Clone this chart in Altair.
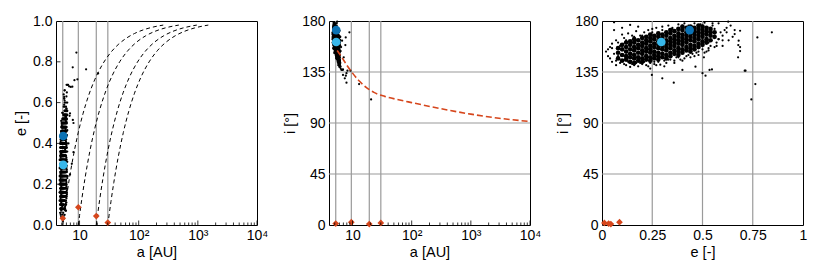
import altair as alt
import pandas as pd

FONT = "Liberation Sans"
FS = 14
FS_T = 14.5
GRID = "#9a9a9a"
RED = "#d6461c"

# ---- planets (red diamonds) ----
planet_names = ["Jupiter", "Saturn", "Uranus", "Neptune"]
planet_a = [5.2, 9.54, 19.19, 30.07]
planet_e = [0.033, 0.087, 0.044, 0.012]
planet_i = [1.3, 2.5, 0.8, 1.8]

# ---- highlighted objects (blue circles) ----
obj_a = [5.3, 5.3]
obj_e = [0.436, 0.295]
obj_i = [172.0, 161.5]
obj_color = ["#0b72b4", "#38b7ea"]

# ---- particle cloud: dense core (rows of equal e) ----
core_e = [0.08, 0.10, 0.12, 0.14, 0.16, 0.18, 0.20, 0.22, 0.24, 0.26, 0.28, 0.30, 0.32,
          0.34, 0.36, 0.38, 0.40, 0.42, 0.44, 0.46, 0.48, 0.50, 0.52, 0.54, 0.56]
core_i = [
    [147, 152, 156],
    [145, 150, 155, 159],
    [146, 149, 153, 157, 161],
    [144, 148, 151, 155, 159, 162],
    [143, 147, 150, 154, 157, 161, 164],
    [145, 148, 152, 156, 159, 163],
    [144, 147, 151, 154, 158, 161, 165],
    [146, 149, 153, 156, 160, 163, 166],
    [145, 148, 152, 155, 158, 162, 165, 168],
    [147, 150, 153, 157, 160, 164, 167],
    [146, 149, 152, 156, 159, 162, 166, 169],
    [148, 151, 155, 158, 161, 165, 168],
    [147, 150, 154, 157, 160, 163, 167, 170],
    [149, 152, 156, 159, 162, 165, 169, 172],
    [151, 154, 158, 161, 164, 167, 171],
    [150, 153, 156, 160, 163, 166, 169, 173],
    [152, 155, 159, 162, 165, 168, 172, 175],
    [154, 157, 161, 164, 167, 170, 174],
    [153, 156, 159, 163, 166, 169, 172, 175],
    [155, 158, 162, 165, 168, 171, 174],
    [157, 160, 164, 167, 170, 173, 176],
    [159, 162, 166, 169, 172, 175],
    [161, 164, 168, 171, 174],
    [163, 167, 170, 173],
    [166, 170],
]
core_a = [
    [5.5, 5.0, 4.8],
    [5.8, 5.3, 5.0, 4.8],
    [5.6, 5.4, 5.1, 4.9, 4.7],
    [5.9, 5.5, 5.3, 5.1, 4.9, 4.8],
    [6.0, 5.7, 5.4, 5.2, 5.0, 4.9, 4.7],
    [5.8, 5.5, 5.3, 5.1, 4.9, 4.8],
    [5.9, 5.6, 5.4, 5.2, 5.0, 4.9, 4.7],
    [5.8, 5.5, 5.3, 5.1, 5.0, 4.8, 4.7],
    [6.0, 5.7, 5.5, 5.3, 5.1, 5.0, 4.9, 4.7],
    [5.8, 5.6, 5.4, 5.2, 5.0, 4.9, 4.8],
    [5.9, 5.7, 5.5, 5.3, 5.1, 5.0, 4.9, 4.7],
    [5.8, 5.6, 5.3, 5.2, 5.0, 4.9, 4.8],
    [5.9, 5.7, 5.5, 5.3, 5.2, 5.0, 4.9, 4.7],
    [5.8, 5.6, 5.4, 5.3, 5.1, 5.0, 4.9, 4.8],
    [5.8, 5.5, 5.4, 5.2, 5.1, 4.9, 4.8],
    [6.0, 5.7, 5.5, 5.4, 5.2, 5.1, 4.9, 4.8],
    [5.9, 5.7, 5.5, 5.3, 5.2, 5.0, 4.9, 4.8],
    [5.8, 5.6, 5.4, 5.3, 5.1, 5.0, 4.9],
    [6.0, 5.8, 5.6, 5.4, 5.3, 5.1, 5.0, 4.9],
    [5.9, 5.7, 5.5, 5.4, 5.2, 5.1, 5.0],
    [5.9, 5.7, 5.5, 5.4, 5.2, 5.1, 5.0],
    [6.0, 5.8, 5.6, 5.4, 5.3, 5.1],
    [6.0, 5.8, 5.6, 5.4, 5.2],
    [6.1, 5.8, 5.6, 5.4],
    [6.1, 5.7],
]

# ---- particle cloud: scattered halo ----
halo_e = [0.02, 0.03, 0.04, 0.05, 0.05, 0.06, 0.06, 0.07, 0.07, 0.09,
          0.09, 0.10, 0.11, 0.12, 0.13, 0.14, 0.15, 0.16, 0.17, 0.18,
          0.19, 0.20, 0.21, 0.22, 0.23, 0.24, 0.25, 0.26, 0.27, 0.28,
          0.29, 0.30, 0.31, 0.33, 0.34, 0.35, 0.37, 0.38, 0.39, 0.41,
          0.42, 0.43, 0.45, 0.46, 0.47, 0.49, 0.50, 0.51, 0.53, 0.54,
          0.55, 0.57, 0.58, 0.59, 0.60, 0.61, 0.62, 0.64, 0.06, 0.14,
          0.10, 0.18, 0.36, 0.44, 0.52, 0.24, 0.31, 0.40, 0.57, 0.48,
          0.04, 0.08, 0.12, 0.16, 0.20, 0.25, 0.30, 0.35, 0.40, 0.45,
          0.50, 0.55, 0.60, 0.03, 0.07, 0.11, 0.15, 0.19, 0.23, 0.27,
          0.32, 0.36, 0.41, 0.46, 0.51, 0.56, 0.62, 0.66, 0.08, 0.13,
          0.17, 0.21, 0.26, 0.33, 0.38, 0.43, 0.48, 0.53, 0.58, 0.05]
halo_i = [153, 149, 157, 144, 160, 151, 178.8, 141, 163, 158,
          143, 168, 165, 141, 169, 139.5, 167, 141, 171, 140,
          167, 142, 170, 141, 172, 143, 173, 142, 174, 144,
          141.5, 175, 145, 176, 146, 174, 148, 177, 146, 178,
          149, 176, 151, 178, 152, 177, 155, 178.5, 156, 158,
          176, 161, 164, 170, 167, 172, 174, 176, 172, 176.5,
          174, 175, 143, 148, 153, 138, 140, 145, 158, 150,
          147, 161, 163, 166, 167, 170, 172, 173, 176, 175,
          176, 178, 163, 155, 145, 142, 142, 143, 140, 141,
          143, 145, 147, 149, 152, 157, 170, 172, 149, 144,
          143, 144, 144, 146, 148, 150, 153, 154, 164, 156]
halo_a = [5.2, 5.4, 4.9, 5.6, 4.8, 5.3, 4.8, 5.8, 4.9, 5.1,
          5.7, 4.8, 4.9, 5.9, 4.8, 6.0, 4.9, 5.8, 4.8, 6.1,
          4.9, 5.8, 4.8, 5.9, 4.8, 5.9, 4.8, 6.0, 4.9, 5.8,
          6.1, 4.9, 5.9, 4.8, 5.8, 4.9, 5.7, 4.8, 6.0, 4.8,
          5.8, 4.9, 5.7, 4.9, 5.8, 5.0, 5.7, 4.9, 5.9, 5.8,
          5.1, 6.0, 5.9, 5.5, 5.9, 5.6, 5.5, 5.4, 4.7, 4.8,
          4.7, 4.8, 6.2, 6.1, 6.0, 6.3, 6.2, 6.1, 6.0, 6.0,
          5.3, 4.9, 4.8, 4.8, 4.9, 4.8, 4.9, 4.8, 4.8, 4.9,
          5.0, 5.2, 5.6, 5.2, 5.9, 6.0, 6.1, 6.0, 6.2, 6.1,
          6.0, 5.9, 5.9, 5.8, 5.8, 5.7, 5.5, 5.6, 5.7, 6.0,
          6.1, 6.0, 6.1, 6.0, 5.9, 5.9, 5.8, 5.8, 5.6, 5.1]

# ---- particle cloud: outliers ----
out_e = [0.845, 0.773, 0.763, 0.714, 0.743, 0.687, 0.68, 0.678, 0.677, 0.66,
         0.628, 0.547, 0.515, 0.50, 0.357, 0.30, 0.248, 0.40, 0.465, 0.535,
         0.507, 0.53, 0.71, 0.687, 0.687, 0.65, 0.58, 0.56, 0.63, 0.60]
out_i = [170, 165.5, 124.4, 136.2, 110.8, 171.4, 162.6, 158.8, 148, 168.5,
         179.4, 137.3, 131.7, 134, 125.6, 129.4, 132.4, 136.8, 139.7, 136.8,
         148, 161, 136.2, 153.5, 157, 166, 178, 173, 163, 158]
out_a = [8.85, 7.67, 12.9, 9.2, 20.6, 6.04, 6.66, 7.56, 7.1, 5.6,
         5.5, 6.9, 7.7, 7.9, 7.9, 7.4, 6.9, 6.5, 6.2, 6.8,
         6.0, 5.8, 8.2, 6.3, 6.4, 6.1, 5.4, 5.6, 6.0, 6.2]

# ---- constant-perihelion curves (panel 1, dashed black) ----
qJ_a = [5.2, 5.5, 6, 6.8, 8, 9.5, 11.5, 14, 18, 24, 33, 45, 62, 85, 120, 175, 260]
qJ_e = [0, 0.0545, 0.1333, 0.2353, 0.35, 0.4526, 0.5478, 0.6286, 0.7111, 0.7833,
        0.8424, 0.8844, 0.9161, 0.9388, 0.9567, 0.9703, 0.98]
qS_a = [9.54, 10, 11, 12.5, 15, 18, 22, 28, 36, 48, 65, 90, 130, 190, 280, 380, 477]
qS_e = [0, 0.046, 0.1327, 0.2368, 0.364, 0.47, 0.5664, 0.6593, 0.735, 0.8013,
        0.8532, 0.894, 0.9266, 0.9498, 0.9659, 0.9749, 0.98]
qU_a = [19.19, 20, 22, 25, 30, 36, 44, 55, 70, 95, 130, 180, 260, 380, 560, 760, 960]
qU_e = [0, 0.0405, 0.1277, 0.2324, 0.3603, 0.4669, 0.5639, 0.6511, 0.7259, 0.798,
        0.8524, 0.8934, 0.9262, 0.9495, 0.9657, 0.9747, 0.98]
qN_a = [30.07, 31.5, 34, 38, 45, 55, 68, 85, 110, 150, 210, 290, 410, 600, 880, 1200, 1503]
qN_e = [0, 0.0454, 0.1156, 0.2087, 0.3318, 0.4533, 0.5578, 0.6462, 0.7266, 0.7995,
        0.8568, 0.8963, 0.9267, 0.9499, 0.9658, 0.9749, 0.98]

# ---- red dashed curve (panel 2) ----
crit_a = [5.5, 6.5, 8, 10, 13, 17, 23, 35, 60, 100, 300, 1000, 3000, 10000]
crit_i = [154, 148.5, 141, 134, 127, 121.5, 117, 113.5, 110.5, 108, 102.8, 97.8, 94.2, 91.3]

# ---- ticks ----
log_major = [10, 100, 1000, 10000]
log_minor = [5, 6, 7, 8, 9, 20, 30, 40, 50, 60, 70, 80, 90,
             200, 300, 400, 500, 600, 700, 800, 900,
             2000, 3000, 4000, 5000, 6000, 7000, 8000, 9000]
e_ticks = [0, 0.2, 0.4, 0.6, 0.8, 1.0]
ang_ticks = [0, 45, 90, 135, 180]
ang_grid = [45, 90, 135]
ecc_ticks = [0, 0.25, 0.5, 0.75, 1]
ecc_grid = [0.25, 0.5, 0.75]

# ---------------- tables ----------------
rows = []
for e, irow, arow in zip(core_e, core_i, core_a):
    for i, a in zip(irow, arow):
        rows.append({"a": a, "e": e, "i": i, "s1": 10, "s3": 22})
for a, e, i in zip(halo_a, halo_e, halo_i):
    rows.append({"a": a, "e": e, "i": i, "s1": 5, "s3": 5})
for a, e, i in zip(out_a, out_e, out_i):
    rows.append({"a": a, "e": e, "i": i, "s1": 5, "s3": 5})
particles = pd.DataFrame(rows)

planets = pd.DataFrame({"name": planet_names, "a": planet_a, "e": planet_e, "i": planet_i})
objects = pd.DataFrame({"a": obj_a, "e": obj_e, "i": obj_i, "col": obj_color})

qrows = []
for q, aa, ee in [("J", qJ_a, qJ_e), ("S", qS_a, qS_e), ("U", qU_a, qU_e), ("N", qN_a, qN_e)]:
    for k, (a, e) in enumerate(zip(aa, ee)):
        qrows.append({"q": q, "k": k, "a": a, "e": e})
qcurves = pd.DataFrame(qrows)
crit = pd.DataFrame({"a": crit_a, "i": crit_i, "k": list(range(len(crit_a)))})

W, H = 201, 204


def AX(**kw):
    return alt.Axis(labelFont=FONT, titleFont=FONT, labelFontSize=FS, titleFontSize=FS_T,
                    titleFontWeight="normal", labelColor="black", titleColor="black",
                    ticks=False, domain=False, grid=False, labelFlush=False,
                    labelOverlap=False, **kw)


xlog = alt.Scale(type="log", domain=[4, 10000], nice=False)
ax_log = AX(values=log_major, title="a [AU]", labelPadding=3, titlePadding=3,
            labelExpr="datum.value == 10 ? '10' : datum.value == 100 ? '10²' : datum.value == 1000 ? '10³' : '10⁴'")
ye = alt.Scale(domain=[0, 1], nice=False, zero=False)
ax_e = AX(values=e_ticks, format=".1f", title="e [-]", labelPadding=4, titlePadding=4)
yi = alt.Scale(domain=[0, 180], nice=False)
ax_i = AX(values=ang_ticks, title="i [°]", labelPadding=4, titlePadding=4)
xe = alt.Scale(domain=[0, 1], nice=False)
ax_xe = AX(values=ecc_ticks, format=".2~f", title="e [-]", labelPadding=3, titlePadding=3)


def XA():
    return alt.X("a:Q", scale=xlog, axis=ax_log)


def log_ticks():
    minor = alt.Chart(pd.DataFrame({"a": log_minor})).mark_rule(color="black", strokeWidth=0.8).encode(
        x=XA(), y=alt.value(H), y2=alt.value(H - 2.5))
    major = alt.Chart(pd.DataFrame({"a": log_major})).mark_rule(color="black", strokeWidth=0.8).encode(
        x=XA(), y=alt.value(H), y2=alt.value(H - 4.5))
    return [minor, major]


# ---------------- panel 1: a vs e ----------------
YE = alt.Y("e:Q", scale=ye, axis=ax_e)
p1 = alt.layer(
    alt.Chart(planets).mark_rule(color=GRID, strokeWidth=1.2).encode(x=XA()),
    alt.Chart(qcurves).mark_line(color="black", strokeDash=[4, 3], strokeWidth=1,
                                 interpolate="monotone").encode(x=XA(), y=YE, detail="q:N", order="k:Q"),
    alt.Chart(particles).mark_circle(color="black", opacity=1).encode(
        x=XA(), y=YE, size=alt.Size("s1:Q", scale=None, legend=None)),
    alt.Chart(objects).mark_circle(size=75, opacity=1).encode(x=XA(), y=YE, color=alt.Color("col:N", scale=None)),
    alt.Chart(planets).mark_point(shape="diamond", filled=True, size=45, color=RED, opacity=1).encode(x=XA(), y=YE),
    *log_ticks(),
    alt.Chart(pd.DataFrame({"e": [0.2, 0.4, 0.6, 0.8]})).mark_rule(color="black", strokeWidth=0.8).encode(
        y=YE, x=alt.value(0), x2=alt.value(4.5)),
).properties(width=W, height=H)

# ---------------- panel 2: a vs i ----------------
YI = alt.Y("i:Q", scale=yi, axis=ax_i)
p2 = alt.layer(
    alt.Chart(planets).mark_rule(color=GRID, strokeWidth=1.2).encode(x=XA()),
    alt.Chart(pd.DataFrame({"i": ang_grid})).mark_rule(color=GRID, strokeWidth=1.2).encode(y=YI),
    alt.Chart(particles).mark_circle(color="black", opacity=1).encode(
        x=XA(), y=YI, size=alt.Size("s1:Q", scale=None, legend=None)),
    alt.Chart(crit).mark_line(color=RED, strokeDash=[6, 3], strokeWidth=1.6,
                              interpolate="monotone").encode(x=XA(), y=YI, order="k:Q"),
    alt.Chart(objects).mark_circle(size=75, opacity=1).encode(x=XA(), y=YI, color=alt.Color("col:N", scale=None)),
    alt.Chart(planets).mark_point(shape="diamond", filled=True, size=45, color=RED, opacity=1).encode(x=XA(), y=YI),
    *log_ticks(),
).properties(width=W, height=H)

# ---------------- panel 3: e vs i ----------------
XE = alt.X("e:Q", scale=xe, axis=ax_xe)
p3 = alt.layer(
    alt.Chart(pd.DataFrame({"e": ecc_grid})).mark_rule(color=GRID, strokeWidth=1.2).encode(x=XE),
    alt.Chart(pd.DataFrame({"i": ang_grid})).mark_rule(color=GRID, strokeWidth=1.2).encode(y=YI),
    alt.Chart(particles).mark_circle(color="black", opacity=1).encode(
        x=XE, y=YI, size=alt.Size("s3:Q", scale=None, legend=None)),
    alt.Chart(objects).mark_circle(size=75, opacity=1).encode(x=XE, y=YI, color=alt.Color("col:N", scale=None)),
    alt.Chart(planets).mark_point(shape="diamond", filled=True, size=45, color=RED, opacity=1).encode(x=XE, y=YI),
).properties(width=W, height=H)

chart = alt.hconcat(p1, p2, p3, spacing=72, bounds="flush").configure_view(
    stroke="black", strokeWidth=1
)

chart.save("out.html", embed_options={"renderer": "svg", "actions": False})
